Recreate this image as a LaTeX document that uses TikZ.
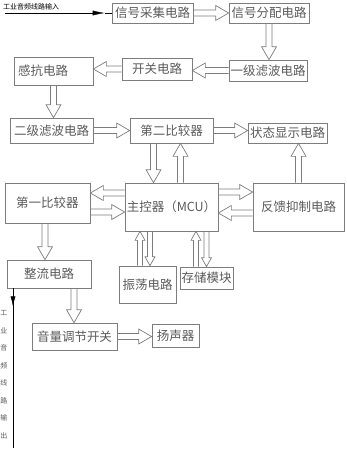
\documentclass[tikz,border=0pt]{standalone}
\usepackage{fontspec}
\newfontfamily\cjk{Noto Sans CJK SC}
\usepackage{tikz}
\usetikzlibrary{arrows.meta, calc}
\definecolor{boxgray}{RGB}{125, 125, 125}
\definecolor{txtgray}{RGB}{90, 90, 90}

% hollow block arrow: shaft half width, head half width, head length, from, to
\newcommand{\blockarrow}[5]{%
  \draw[boxgray, line width=0.7pt, line join=miter]
    let \p1=#4, \p2=#5, \n1={atan2(\y2-\y1,\x2-\x1)}, \n2={veclen(\x2-\x1,\y2-\y1)} in
    [shift={(\p1)}, rotate=\n1]
    (0,-#1) -- ({\n2-#3},-#1) -- ({\n2-#3},-#2) -- (\n2,0) -- ({\n2-#3},#2) -- ({\n2-#3},#1) -- (0,#1);}
\newcommand{\bigarrow}{\blockarrow{3}{7.5}{13}}
\newcommand{\smallarrow}{\blockarrow{2.5}{5}{9}}

\begin{document}
\begin{tikzpicture}[x=1pt, y=-1pt,
  box/.style={draw=boxgray, line width=0.7pt, inner sep=0pt, text=txtgray,
    font=\cjk\fontsize{12.5}{13}\selectfont},
  tiny/.style={inner sep=0pt, font=\cjk\fontsize{7}{8}\selectfont}]
  \useasboundingbox (0,0) rectangle (346,450);

  \node[box, minimum width=81pt, minimum height=20pt] (acq) at (152.5,13) {信号采集电路};
  \node[box, minimum width=80pt, minimum height=20pt] (dist) at (269,13) {信号分配电路};
  \node[box, minimum width=78pt, minimum height=21pt] (flt1) at (268,70.5) {一级滤波电路};
  \node[box, minimum width=70pt, minimum height=22pt] (sw) at (157,69) {开关电路};
  \node[box, minimum width=79pt, minimum height=28pt, text width=71pt] (ind) at (53.5,71) {感抗电路};
  \node[box, minimum width=83pt, minimum height=25pt] (flt2) at (51.5,130.5) {二级滤波电路};
  \node[box, minimum width=83pt, minimum height=25pt] (cmp2) at (171.5,130.5) {第二比较器};
  \node[box, minimum width=79pt, minimum height=20pt] (disp) at (287.5,133) {状态显示电路};
  \node[box, minimum width=85pt, minimum height=40pt] (cmp1) at (47.5,203) {第一比较器};
  \node[box, minimum width=93pt, minimum height=48pt] (mcu) at (171.5,207) {主控器（MCU）};
  \node[box, minimum width=91pt, minimum height=48pt] (fb) at (298.5,207) {反馈抑制电路};
  \node[box, minimum width=84pt, minimum height=28pt] (rect) at (49,274) {整流电路};
  \node[box, minimum width=57pt, minimum height=37pt] (osc) at (147.5,284.5) {振荡电路};
  \node[box, minimum width=53pt, minimum height=22pt] (mem) at (206.5,278) {存储模块};
  \node[box, minimum width=85pt, minimum height=27pt] (vol) at (74.5,336.5) {音量调节开关};
  \node[box, minimum width=47pt, minimum height=23pt] (spk) at (175.5,335.5) {扬声器};

  \coordinate (m1) at ([yshift=14pt]mcu.west);
  \coordinate (c1) at ([yshift=-9pt]cmp1.east);
  \coordinate (m2) at ([yshift=15pt]mcu.east);
  \coordinate (f1) at ([yshift=-6pt]fb.west);

  \bigarrow{(acq.east)}{(dist.west)}
  \bigarrow{(dist.south)}{(dist.south |- flt1.north)}
  \bigarrow{(flt1.west)}{(sw.east |- flt1.west)}
  \bigarrow{(sw.west)}{(ind.east |- sw.west)}
  \bigarrow{(ind.south)}{(ind.south |- flt2.north)}
  \bigarrow{(flt2.east)}{(cmp2.west)}
  \bigarrow{(cmp2.east)}{(disp.west |- cmp2.east)}
  \bigarrow{([xshift=-18pt]cmp2.south)}{([xshift=-18pt]cmp2.south |- mcu.north)}
  \bigarrow{([xshift=9pt]mcu.north)}{([xshift=9pt]mcu.north |- cmp2.south)}
  \bigarrow{(fb.north)}{(fb.north |- disp.south)}
  \bigarrow{(m1)}{(cmp1.east |- m1)}
  \bigarrow{(c1)}{(mcu.west |- c1)}
  \bigarrow{(m2)}{(fb.west |- m2)}
  \bigarrow{(f1)}{(mcu.east |- f1)}
  \bigarrow{([xshift=-2.5pt]cmp1.south)}{([xshift=-2.5pt]cmp1.south |- rect.north)}
  \smallarrow{([xshift=-7.5pt]osc.north)}{([xshift=-7.5pt]osc.north |- mcu.south)}
  \smallarrow{([xshift=-21.5pt]mcu.south)}{([xshift=-21.5pt]mcu.south |- osc.north)}
  \smallarrow{([xshift=-10.5pt]mem.north)}{([xshift=-10.5pt]mem.north |- mcu.south)}
  \smallarrow{(mcu.south -| mem.north)}{(mem.north)}
  \bigarrow{([xshift=25pt]rect.south)}{([xshift=25pt]rect.south |- vol.north)}
  \bigarrow{(vol.east)}{(spk.west |- vol.east)}

  \node[tiny, anchor=west] (inlbl) at (3,7) {工业音频线路输入};
  \coordinate (in) at (5,13);
  \draw[-{Latex[length=12pt, width=5pt]}] (in) -- ([xshift=-7pt]acq.west);
  \draw ([xshift=-7pt]acq.west) -- (acq.west);

  \coordinate (out) at (13,448);
  \draw (rect.south -| out) -- (out);
  \draw[-{Latex[length=10pt, width=5pt]}] (rect.south -| out) -- ++(0,18);
  \foreach \c [count=\i] in {工,业,音,频,线,路,输,出}
    \node[tiny, text=txtgray] (o\i) at (4,{313+17.5*(\i-1)}) {\c};
\end{tikzpicture}
\end{document}
